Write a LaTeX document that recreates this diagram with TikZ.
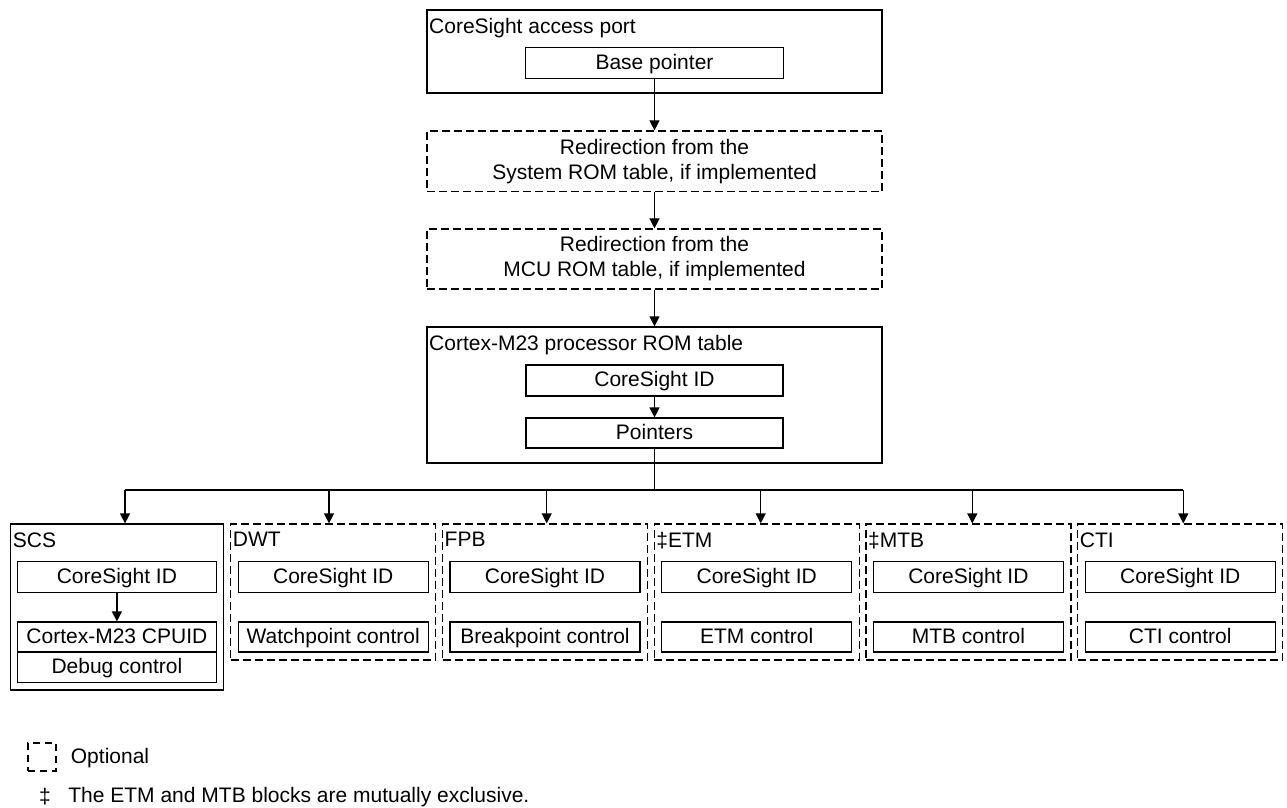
\documentclass[tikz,border=0pt]{standalone}
\usepackage{fontspec}
\setmainfont{Liberation Sans}
\usetikzlibrary{arrows.meta}

\tikzset{
  blk/.style={draw, line width=0.6pt, inner sep=0pt, align=center},
  optblk/.style={blk, dash pattern=on 4pt off 2pt},
  field/.style={blk, text height=7.6pt, text depth=1.3pt},
  ttl/.style={anchor=north west, inner xsep=1.2pt, inner ysep=4.3pt},
  arr/.style={line width=0.6pt, -{Triangle[length=5pt, width=5pt]}},
}

\begin{document}
\begin{tikzpicture}[x=0.5pt, y=-0.5pt, font=\fontsize{10.5}{12.5}\selectfont]

  \useasboundingbox (0,0) rectangle (1287,808);

  % Port d'accès et pointeur de base.
  \node[blk, minimum width=227.5pt, minimum height=41.5pt] (ap) at (654.5,51.5) {};
  \node[ttl] (aptitle) at (ap.north west) {CoreSight access port};
  \node[field, minimum width=128.8pt, minimum height=15.3pt] (bp) at (654.5,63) {Base pointer};

  % Redirections optionnelles.
  \node[optblk, minimum width=227.5pt, minimum height=30.3pt] (sys) at (654.5,161.3)
       {Redirection from the\\ System ROM table, if implemented};
  \node[optblk, minimum width=227.5pt, minimum height=30pt] (mcu) at (654.5,259)
       {Redirection from the\\ MCU ROM table, if implemented};

  % Table ROM du processeur.
  \node[blk, minimum width=227.5pt, minimum height=68pt] (rom) at (654.5,395) {};
  \node[ttl] (romtitle) at (rom.north west) {Cortex-M23 processor ROM table};
  \node[field, minimum width=128.5pt, minimum height=15.5pt] (romid) at (654.5,380.5) {CoreSight ID};
  \node[field, minimum width=128.5pt, minimum height=15pt] (ptr) at (654.5,433) {Pointers};

  \draw[arr] (bp) -- (sys);
  \draw[arr] (sys) -- (mcu);
  \draw[arr] (mcu) -- (rom);
  \draw[arr] (romid) -- (ptr);

  % SCS : bloc obligatoire.
  \node[blk, minimum width=106.2pt, minimum height=83pt] (scs) at (116.9,607) {};
  \node[ttl] (scstitle) at (scs.north west) {SCS};
  \node[field, minimum width=99.2pt, minimum height=15.2pt] (scsid) at (116.9,577) {CoreSight ID};
  \node[field, minimum width=99.2pt, minimum height=15pt] (cpuid) at (116.9,637) {Cortex-M23 CPUID};
  \node[field, minimum width=99.2pt, minimum height=15.3pt] (dbg) at (116.9,667.3) {Debug control};
  \draw[arr] (scsid) -- (cpuid);

  % Blocs optionnels.
  \node[optblk, minimum width=102.5pt, minimum height=68pt] (dwt) at (333.2,592) {};
  \node[ttl] (dwttitle) at (dwt.north west) {DWT};
  \node[field, minimum width=95pt, minimum height=15.2pt] (dwtid) at (333.2,577) {CoreSight ID};
  \node[field, minimum width=95pt, minimum height=15pt] (dwtctl) at (333.2,637) {Watchpoint control};

  \node[optblk, minimum width=102.5pt, minimum height=68pt] (fpb) at (545,592) {};
  \node[ttl] (fpbtitle) at (fpb.north west) {FPB};
  \node[field, minimum width=95pt, minimum height=15.2pt] (fpbid) at (545,577) {CoreSight ID};
  \node[field, minimum width=95pt, minimum height=15pt] (fpbctl) at (545,637) {Breakpoint control};

  \node[optblk, minimum width=102.5pt, minimum height=68pt] (etm) at (756.7,592) {};
  \node[ttl] (etmtitle) at (etm.north west) {‡ETM};
  \node[field, minimum width=95pt, minimum height=15.2pt] (etmid) at (756.7,577) {CoreSight ID};
  \node[field, minimum width=95pt, minimum height=15pt] (etmctl) at (756.7,637) {ETM control};

  \node[optblk, minimum width=102.5pt, minimum height=68pt] (mtb) at (968.4,592) {};
  \node[ttl] (mtbtitle) at (mtb.north west) {‡MTB};
  \node[field, minimum width=95pt, minimum height=15.2pt] (mtbid) at (968.4,577) {CoreSight ID};
  \node[field, minimum width=95pt, minimum height=15pt] (mtbctl) at (968.4,637) {MTB control};

  \node[optblk, minimum width=102.5pt, minimum height=68pt] (cti) at (1180.2,592) {};
  \node[ttl] (cticitle) at (cti.north west) {CTI};
  \node[field, minimum width=95pt, minimum height=15.2pt] (ctiid) at (1180.2,577) {CoreSight ID};
  \node[field, minimum width=95pt, minimum height=15pt] (ctictl) at (1180.2,637) {CTI control};

  % Bus de pointeurs, avec les points de descente.
  \coordinate (bus) at (654.5,490);
  \coordinate (tscs) at (125,490);
  \coordinate (tdwt) at (329,490);
  \coordinate (tfpb) at (546.7,490);
  \coordinate (tetm) at (760.7,490);
  \coordinate (tmtb) at (972.3,490);
  \coordinate (tcti) at (1183.3,490);
  \draw[line width=0.6pt] (ptr) -- (bus);
  \draw[line width=0.6pt] (tscs) -- (tcti);
  \draw[arr] (tscs) -- (tscs |- scs.north);
  \draw[arr] (tdwt) -- (tdwt |- dwt.north);
  \draw[arr] (tfpb) -- (tfpb |- fpb.north);
  \draw[arr] (tetm) -- (tetm |- etm.north);
  \draw[arr] (tmtb) -- (tmtb |- mtb.north);
  \draw[arr] (tcti) -- (tcti |- cti.north);

  % Légende.
  \node[draw, line width=0.6pt, dash pattern=on 3.5pt off 2.5pt, minimum size=14pt, inner sep=0pt]
       (optkey) at (42,757) {};
  \node[anchor=west, inner sep=0pt] (opttext) at (70.5,758) {Optional};
  \node[inner sep=0pt] (dagkey) at (45,797) {‡};
  \node[anchor=west, inner sep=0pt] (dagtext) at (68,797) {The ETM and MTB blocks are mutually exclusive.};

\end{tikzpicture}
\end{document}
